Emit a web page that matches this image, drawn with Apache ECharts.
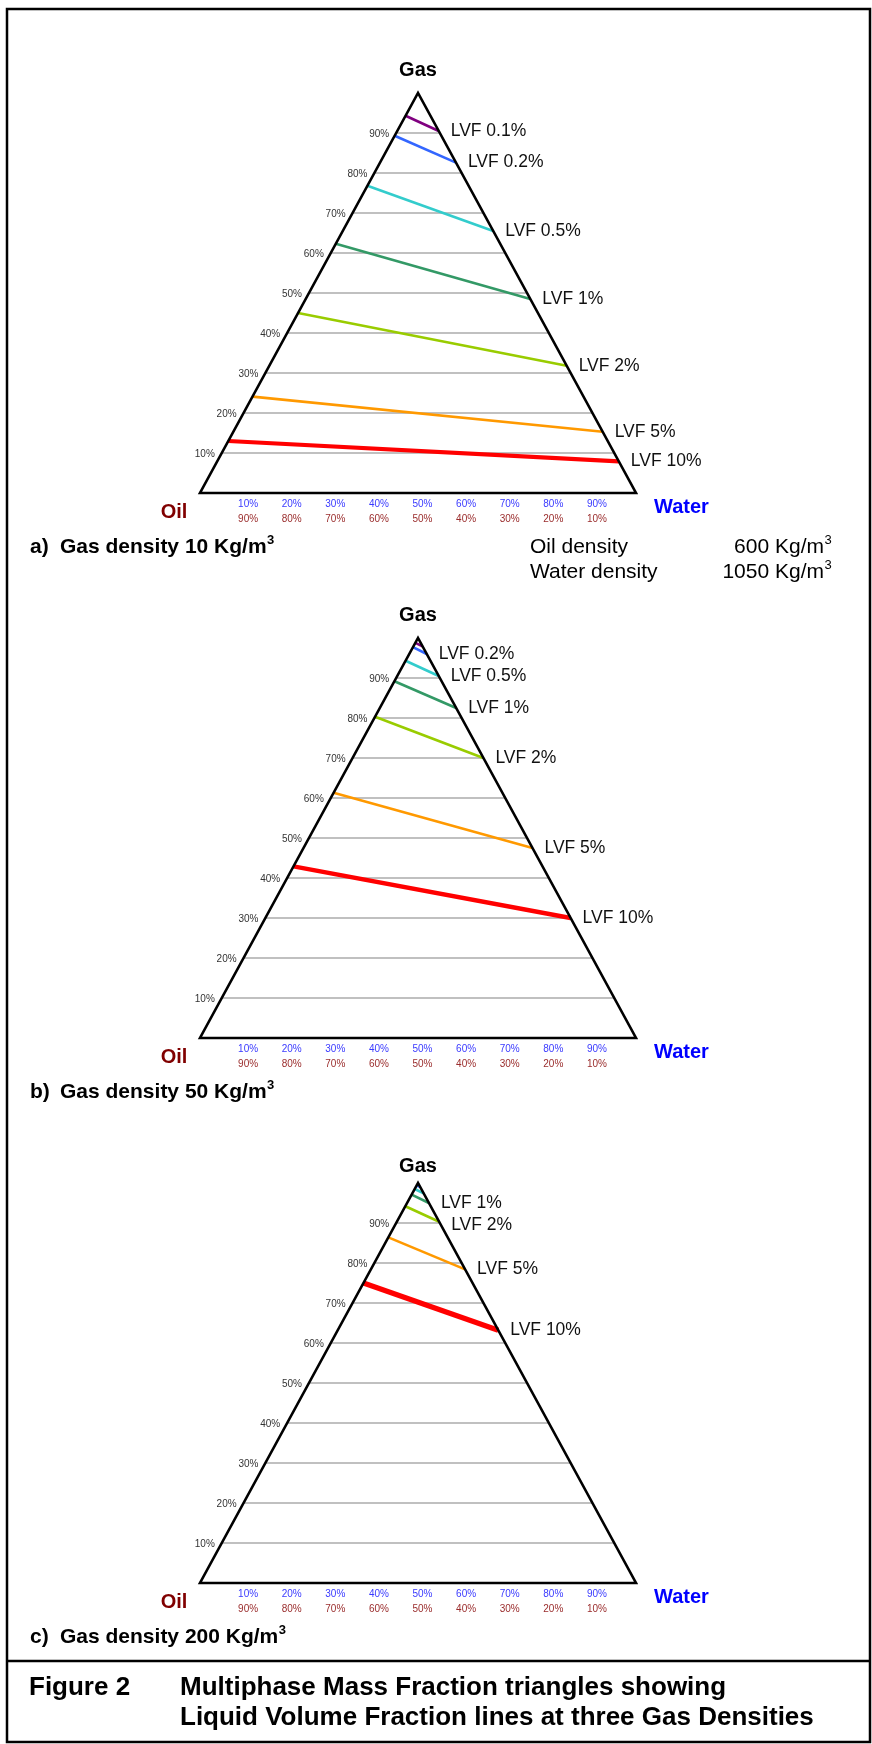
<!DOCTYPE html>
<html>
<head>
<meta charset="utf-8">
<title>Multiphase Mass Fraction triangles</title>
<script src="https://cdn.jsdelivr.net/npm/echarts@6.0.0/dist/echarts.min.js"></script>
<style>
  html, body { margin: 0; padding: 0; background: #ffffff; }
  #chart { width: 872px; height: 1744px; }
</style>
</head>
<body>
<div id="chart"></div>
<script>
// ---------------------------------------------------------------- data ----
const lvfNames = ['LVF 0.1%', 'LVF 0.2%', 'LVF 0.5%', 'LVF 1%', 'LVF 2%', 'LVF 5%', 'LVF 10%'];
const gasDensities = [10, 50, 200];   // kg/m3, one triangle each
const oilDensity = 600;               // kg/m3
const waterDensity = 1050;            // kg/m3

// Gas mass fraction (%) where each LVF line meets the Oil-Gas side
const gasOnOilSide10  = [94.3, 89.3, 76.8, 62.3, 45.0, 24.1, 13.0];
const gasOnOilSide50  = [98.8, 97.7, 94.3, 89.2, 80.3, 61.3, 42.9];
const gasOnOilSide200 = [99.7, 99.4, 98.5, 97.1, 94.2, 86.4, 75.0];
// Gas mass fraction (%) where each LVF line meets the Water-Gas side
const gasOnWaterSide10  = [90.5, 82.6, 65.5, 48.5, 31.8, 15.3, 7.9];
const gasOnWaterSide50  = [97.9, 96.0, 90.5, 82.5, 70.0, 47.5, 30.0];
const gasOnWaterSide200 = [99.5, 99.0, 97.4, 95.0, 90.3, 78.4, 63.2];

// LVF lines that carry a name tag in each triangle
const taggedLines10  = ['LVF 0.1%', 'LVF 0.2%', 'LVF 0.5%', 'LVF 1%', 'LVF 2%', 'LVF 5%', 'LVF 10%'];
const taggedLines50  = ['LVF 0.2%', 'LVF 0.5%', 'LVF 1%', 'LVF 2%', 'LVF 5%', 'LVF 10%'];
const taggedLines200 = ['LVF 1%', 'LVF 2%', 'LVF 5%', 'LVF 10%'];

// tick labels
const gasTicks   = [10, 20, 30, 40, 50, 60, 70, 80, 90];
const waterTicks = [10, 20, 30, 40, 50, 60, 70, 80, 90];
const oilTicks   = [90, 80, 70, 60, 50, 40, 30, 20, 10];

const panelLetters = ['a)', 'b)', 'c)'];
const figureNumber = 'Figure 2';
const figureTitle = ['Multiphase Mass Fraction triangles showing',
                     'Liquid Volume Fraction lines at three Gas Densities'];

// --------------------------------------------------------------- style ----
const FONT = '"Liberation Sans", Arial, Helvetica, sans-serif';
const lvfColors = ['#800080', '#3366ff', '#33cccc', '#339966', '#99cc00', '#ff9900', '#ff0000'];
const lvfWidth = 2.6;
const redWidths = [4.2, 4.4, 5.4];
const plotLeft = 200, plotWidth = 436, plotHeight = 400;
const panelTops = [93, 638, 1183];
const gasLabelGap = [23, 23, 17];
// small vertical nudges for tags that sit close together
const tagNudge = [{}, {}, { 'LVF 2%': 3 }];

const panels = [
  { oil: gasOnOilSide10,  water: gasOnWaterSide10,  tagged: taggedLines10 },
  { oil: gasOnOilSide50,  water: gasOnWaterSide50,  tagged: taggedLines50 },
  { oil: gasOnOilSide200, water: gasOnWaterSide200, tagged: taggedLines200 }
];

// ternary (gas %, water %) -> cartesian (x, y) with Oil bottom-left,
// Water bottom-right and Gas at the apex
function proj(gas, water) { return [water + gas / 2, gas]; }

const grids = [], xAxes = [], yAxes = [], series = [];

panels.forEach((p, i) => {
  grids.push({ left: plotLeft, top: panelTops[i], width: plotWidth, height: plotHeight });

  xAxes.push({
    gridIndex: i, type: 'value', min: 0, max: 100, interval: 10,
    axisLine: { show: false }, axisTick: { show: false }, splitLine: { show: false },
    axisLabel: {
      show: true, margin: 3.5, showMinLabel: false, showMaxLabel: false,
      padding: [0, 0, 0, 9],
      formatter: v => {
        const k = waterTicks.indexOf(v);
        return k < 0 ? '' : '{w|' + waterTicks[k] + '%}\n{o|' + oilTicks[k] + '%}';
      },
      rich: {
        w: { color: '#3a3aff', fontSize: 10, lineHeight: 15, fontFamily: FONT },
        o: { color: '#9a2c2c', fontSize: 10, lineHeight: 15, fontFamily: FONT }
      }
    }
  });
  yAxes.push({ gridIndex: i, type: 'value', min: 0, max: 100, show: false });

  // horizontal gas-fraction grid lines, side to side, with their labels
  series.push({
    type: 'custom', xAxisIndex: i, yAxisIndex: i, silent: true, z: 1,
    data: gasTicks.map(g => [g]),
    renderItem: (params, api) => {
      const g = api.value(0);
      const a = api.coord(proj(g, 0));
      const b = api.coord(proj(g, 100 - g));
      return {
        type: 'group',
        children: [
          { type: 'line', shape: { x1: a[0], y1: a[1], x2: b[0], y2: b[1] },
            style: { stroke: '#ababab', lineWidth: 1.3 } },
          { type: 'text', x: a[0] - 7, y: a[1] + 1,
            style: { text: g + '%', fill: '#333333', fontSize: 10, fontFamily: FONT,
                     align: 'right', verticalAlign: 'middle',
                     textAlign: 'right', textVerticalAlign: 'middle' } }
        ]
      };
    }
  });

  // LVF lines
  lvfNames.forEach((name, k) => {
    const gOil = p.oil[k], gWat = p.water[k];
    series.push({
      type: 'line', name: name, xAxisIndex: i, yAxisIndex: i,
      symbol: 'none', showSymbol: false, silent: true, z: 3,
      data: [proj(gOil, 0), proj(gWat, 100 - gWat)],
      lineStyle: { color: lvfColors[k], width: k === 6 ? redWidths[i] : lvfWidth, cap: 'butt' },
      endLabel: {
        show: p.tagged.indexOf(name) >= 0, formatter: name, distance: 12,
        offset: [0, tagNudge[i][name] || 0],
        color: '#111111', fontSize: 17.5, fontFamily: FONT
      }
    });
  });

  // triangle outline and corner names
  series.push({
    type: 'custom', xAxisIndex: i, yAxisIndex: i, silent: true, z: 5,
    data: [[0]],
    renderItem: (params, api) => {
      const oil = api.coord(proj(0, 0));
      const water = api.coord(proj(0, 100));
      const gas = api.coord(proj(100, 0));
      const txt = (x, y, text, color, align) => ({
        type: 'text', x: x, y: y,
        style: { text: text, fill: color, fontSize: 20, fontWeight: 'bold', fontFamily: FONT,
                 align: align, verticalAlign: 'middle', textAlign: align, textVerticalAlign: 'middle' }
      });
      return {
        type: 'group',
        children: [
          { type: 'polygon', shape: { points: [oil, water, gas] },
            style: { fill: 'none', stroke: '#000000', lineWidth: 2.6, lineJoin: 'miter', miterLimit: 20 } },
          txt(gas[0], gas[1] - gasLabelGap[i], 'Gas', '#000000', 'center'),
          txt(oil[0] - 26, oil[1] + 19, 'Oil', '#800000', 'center'),
          txt(water[0] + 18, water[1] + 14, 'Water', '#0000ff', 'left')
        ]
      };
    }
  });
});

// ------------------------------------------------------------ captions ----
const graphic = [];
function text(x, y, str, size, weight, align, color) {
  graphic.push({
    type: 'text', x: x, y: y, silent: true,
    style: { text: str, fill: color || '#000000', fontSize: size, fontWeight: weight || 'normal',
             fontFamily: FONT, align: align || 'left', verticalAlign: 'middle',
             textAlign: align || 'left', textVerticalAlign: 'middle' }
  });
}
function textWidth(str, font) {
  return echarts.format.getTextRect ? echarts.format.getTextRect(str, font).width : str.length * 11;
}
// frame and separator
graphic.push({ type: 'rect', silent: true, shape: { x: 7, y: 9, width: 863, height: 1733 },
               style: { fill: 'none', stroke: '#000000', lineWidth: 2.5 } });
graphic.push({ type: 'line', silent: true, shape: { x1: 7, y1: 1661, x2: 870, y2: 1661 },
               style: { stroke: '#000000', lineWidth: 2.5 } });

gasDensities.forEach((d, i) => {
  const y = panelTops[i] + plotHeight + 54;
  text(30, y, panelLetters[i], 21, 'bold');
  const main = 'Gas density ' + d + ' Kg/m';
  text(60, y, main, 21, 'bold');
  text(60 + textWidth(main, 'bold 21px ' + FONT) + 0.5, y - 7, '3', 13, 'bold');
});

const densY = panelTops[0] + plotHeight + 54;
text(530, densY, 'Oil density', 21);
text(824, densY, oilDensity + ' Kg/m', 21, 'normal', 'right');
text(824.5, densY - 7, '3', 13);
text(530, densY + 25, 'Water density', 21);
text(824, densY + 25, waterDensity + ' Kg/m', 21, 'normal', 'right');
text(824.5, densY + 18, '3', 13);

text(29, 1688, figureNumber, 26, 'bold');
text(180, 1688, figureTitle[0], 26, 'bold');
text(180, 1718, figureTitle[1], 26, 'bold');

const chart = echarts.init(document.getElementById('chart'), null, { renderer: 'canvas' });
chart.setOption({
  animation: false,
  backgroundColor: '#ffffff',
  grid: grids,
  xAxis: xAxes,
  yAxis: yAxes,
  series: series,
  graphic: graphic
});
</script>
</body>
</html>
